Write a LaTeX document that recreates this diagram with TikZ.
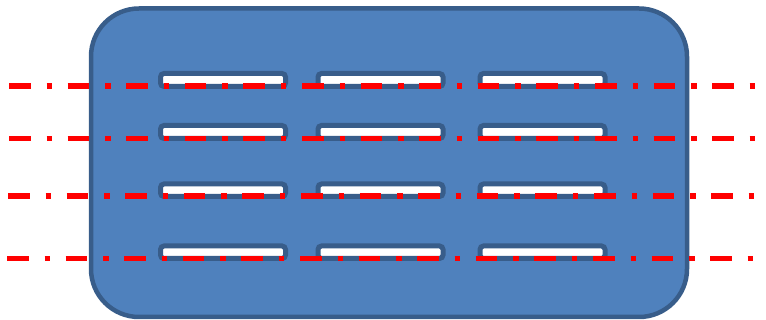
\documentclass[tikz,border=0pt]{standalone}
\definecolor{boxfill}{HTML}{4F81BD}
\definecolor{boxline}{HTML}{385D8A}
\definecolor{cutred}{HTML}{FF0000}
\tikzset{
  bigbox/.style={fill=boxfill, draw=boxline, line width=4.5pt, rounded corners=48pt},
  slot/.style={fill=white, draw=boxline, line width=5pt, rounded corners=3.5pt},
  cutline/.style={draw=cutred, line width=5.5pt, dash pattern=on 21.5pt off 16pt on 5.5pt off 15.6pt}
}
\begin{document}
\begin{tikzpicture}[x=1pt,y=-1pt]
\useasboundingbox (0,0) rectangle (766,320);
\draw[bigbox] (91,8.5) rectangle (687,317);
% slots
\foreach \xa/\xb in {160.5/285.5, 318/443, 480/605}{
  \foreach \ya/\yb in {73.5/86.5, 125.5/138.5, 184/196.5, 246/258.5}{
    \draw[slot] (\xa,\ya) rectangle (\xb,\yb);
  }
}
% cut lines
\coordinate (l1a) at (9,86);    \coordinate (l1b) at (756,86);
\coordinate (l2a) at (9,138.3); \coordinate (l2b) at (756,138.3);
\coordinate (l3a) at (8,196);   \coordinate (l3b) at (756,196);
\coordinate (l4a) at (7,258.5); \coordinate (l4b) at (756,258.5);
\draw[cutline] (l1a) -- (l1b);
\draw[cutline] (l2a) -- (l2b);
\draw[cutline] (l3a) -- (l3b);
\draw[cutline] (l4a) -- (l4b);
\end{tikzpicture}
\end{document}
